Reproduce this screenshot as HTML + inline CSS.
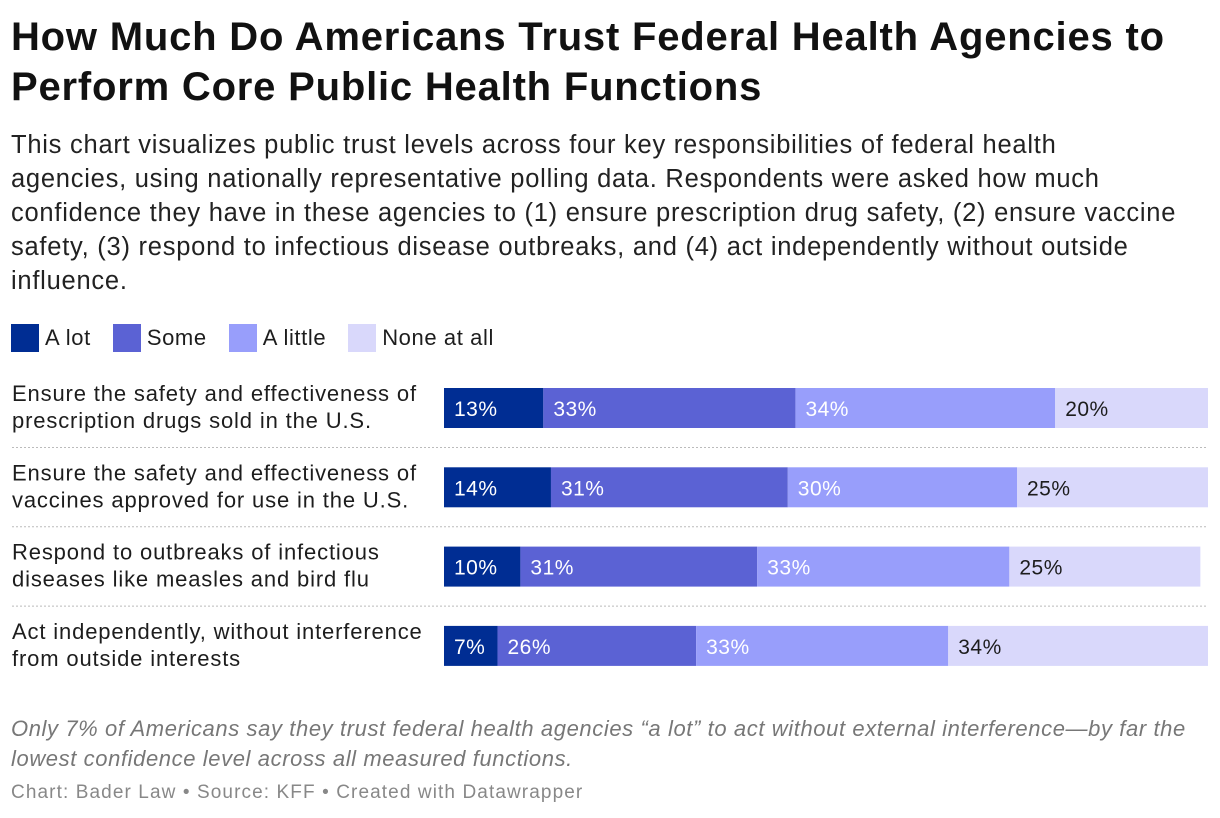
<!DOCTYPE html>
<html><head><meta charset="utf-8"><style>
body{margin:0;width:1220px;height:818px;background:#fff;font-family:"Liberation Sans",sans-serif;color:#1d1d1d;position:relative;overflow:hidden}
#title{position:absolute;left:11px;top:12px;font-size:40px;font-weight:bold;line-height:50px;margin:0;letter-spacing:0.8px;color:#111;white-space:nowrap}
#sub{position:absolute;left:11px;top:128px;font-size:25.5px;line-height:34px;width:1210px;margin:0;color:#222;letter-spacing:0.75px;white-space:nowrap}
#legend{position:absolute;left:11px;top:324px;font-size:22px;display:flex;letter-spacing:0.6px}
.li{display:flex;align-items:center;margin-right:22px}
.sw{width:28px;height:28px;margin-right:6px}
#note{position:absolute;left:11px;top:714px;font-size:22px;line-height:30px;font-style:italic;color:#777;letter-spacing:0.6px;white-space:nowrap}
#foot{position:absolute;left:11px;top:782px;font-size:19px;color:#888;letter-spacing:1.1px}
</style></head><body>
<h1 id="title">How Much Do Americans Trust Federal Health Agencies to<br>Perform Core Public Health Functions</h1>
<p id="sub">This chart visualizes public trust levels across four key responsibilities of federal health<br>agencies, using nationally representative polling data. Respondents were asked how much<br>confidence they have in these agencies to (1) ensure prescription drug safety, (2) ensure vaccine<br>safety, (3) respond to infectious disease outbreaks, and (4) act independently without outside<br>influence.</p>
<div id="legend">
<div class="li"><div class="sw" style="background:#002d93"></div>A lot</div>
<div class="li"><div class="sw" style="background:#5b62d4"></div>Some</div>
<div class="li"><div class="sw" style="background:#989efb"></div>A little</div>
<div class="li"><div class="sw" style="background:#d9d8fb"></div>None at all</div>
</div>
<svg id="chart" width="1220" height="818" style="position:absolute;left:0;top:0"></svg>
<div id="note">Only 7% of Americans say they trust federal health agencies “a lot” to act without external interference—by far the<br>lowest confidence level across all measured functions.</div>
<div id="foot">Chart: Bader Law • Source: KFF • Created with Datawrapper</div>
<script>
const categories=[["Ensure the safety and effectiveness of","prescription drugs sold in the U.S."],["Ensure the safety and effectiveness of","vaccines approved for use in the U.S."],["Respond to outbreaks of infectious","diseases like measles and bird flu"],["Act independently, without interference","from outside interests"]];
const aLot=[13,14,10,7];
const some=[33,31,31,26];
const aLittle=[34,30,33,33];
const noneAtAll=[20,25,25,34];
const seriesNames=["a-lot","some","a-little","none-at-all"];
const colors=["#002d93","#5b62d4","#989efb","#d9d8fb"];
const textColors=["#fff","#fff","#fff","#1d1d1d"];
const svg=document.getElementById('chart');
const NS="http://www.w3.org/2000/svg";
const x0=444,pxPer=7.64,rowTop=388,rowStep=79.3,barH=40;
const xs=v=>v*pxPer;
const ys=i=>rowTop+i*rowStep;
const series=[aLot,some,aLittle,noneAtAll];
categories.forEach((cat,i)=>{
  const y=ys(i);
  const t=document.createElementNS(NS,'text');
  
  
  t.setAttribute('x',12);t.setAttribute('y',y+13);
  t.setAttribute('font-size','22');t.setAttribute('fill','#1d1d1d');
  t.setAttribute('letter-spacing','0.85');
  t.setAttribute('font-family','Liberation Sans, sans-serif');
  cat.forEach((l,k)=>{const ts=document.createElementNS(NS,'tspan');ts.setAttribute('x',12);ts.setAttribute('dy',k?27:0);ts.textContent=l;t.appendChild(ts);});
  svg.appendChild(t);
  let acc=0;
  series.forEach((s,j)=>{
    const v=s[i];
    const r=document.createElementNS(NS,'rect');
    
    
    r.setAttribute('x',x0+xs(acc));r.setAttribute('y',y);
    r.setAttribute('width',xs(v));r.setAttribute('height',barH);
    r.setAttribute('fill',colors[j]);svg.appendChild(r);
    const lt=document.createElementNS(NS,'text');
    
    
    lt.setAttribute('x',x0+xs(acc)+10);lt.setAttribute('y',y+28);
    lt.setAttribute('font-size','21');lt.setAttribute('fill',textColors[j]);
    lt.setAttribute('letter-spacing','0.5');
    lt.setAttribute('font-family','Liberation Sans, sans-serif');
    lt.textContent=v+'%';svg.appendChild(lt);
    acc+=v;
  });
  if(i<categories.length-1){
    const ln=document.createElementNS(NS,'line');
    
    
    const ly=y+barH+19.5;
    ln.setAttribute('x1',12);ln.setAttribute('x2',1208);ln.setAttribute('y1',ly);ln.setAttribute('y2',ly);
    ln.setAttribute('stroke','#bbb');ln.setAttribute('stroke-dasharray','2,2');
    svg.appendChild(ln);
  }
});
</script>
</body></html>
